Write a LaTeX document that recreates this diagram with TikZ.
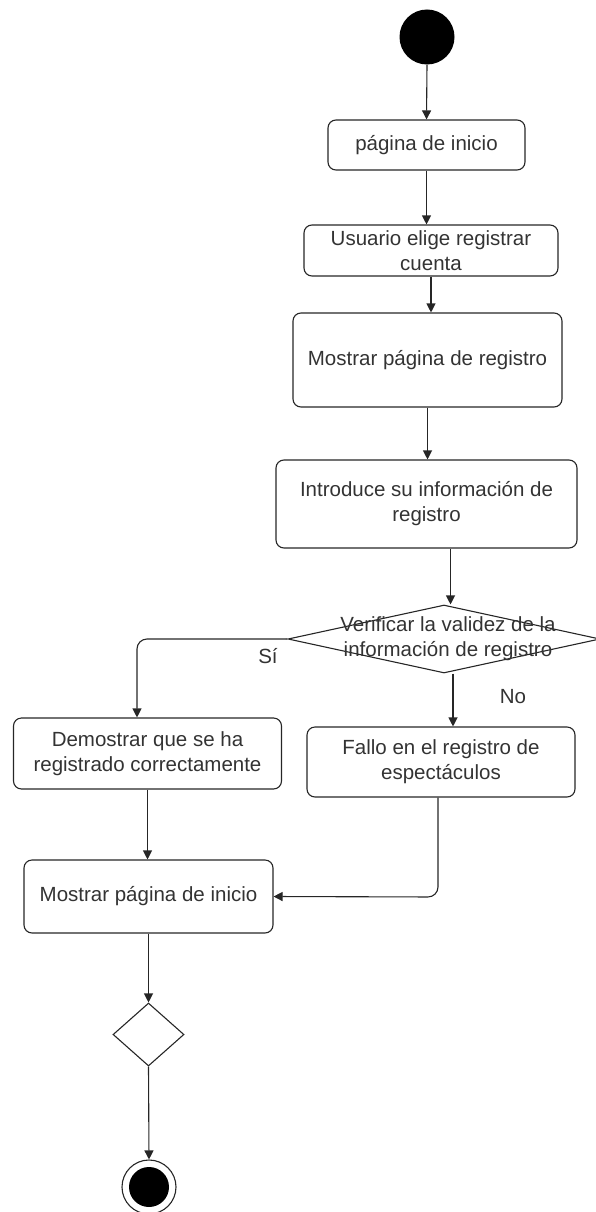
\documentclass[tikz,border=0pt]{standalone}
\usepackage{fontspec}
\setmainfont{Liberation Sans}
\usetikzlibrary{shapes.geometric,arrows.meta}
\definecolor{ln}{HTML}{262626}
\definecolor{tx}{HTML}{333333}
\begin{document}
\begin{tikzpicture}[x=1pt,y=-1pt,
  act/.style={draw=ln,line width=1.1pt,rounded corners=8pt,align=center,text=tx,font=\fontsize{20.5}{25}\selectfont,inner sep=0pt},
  flow/.style={draw=ln,line width=1.1pt,-{Triangle[length=9pt,width=9pt]}},
  lbl/.style={text=tx,font=\fontsize{20.5}{25}\selectfont}]
\useasboundingbox (0,0) rectangle (595,1212);
\node[circle,fill=black,minimum size=55pt,inner sep=0pt] (start) at (427,37) {};
\node[act,minimum width=197pt,minimum height=50pt] (b1) at (426.5,145) {página de inicio};
\node[act,minimum width=254pt,minimum height=51pt] (b2) at (431,250.5) {Usuario elige registrar\\cuenta};
\node[act,minimum width=269pt,minimum height=94pt] (b3) at (427.5,360) {Mostrar página de registro};
\node[act,minimum width=301pt,minimum height=88pt] (b4) at (426.5,504) {Introduce su información de\\registro};
\node[diamond,draw=ln,line width=1.1pt,minimum width=312pt,minimum height=68pt,inner sep=0pt,aspect=4.6] (d1) at (444,639) {};
\node[text=tx,font=\fontsize{20.5}{25}\selectfont,align=center] (d1t) at (448,639) {Verificar la validez de la\\información de registro};
\node[act,minimum width=268pt,minimum height=71pt] (b5) at (147.5,753.5) {Demostrar que se ha\\registrado correctamente};
\node[act,minimum width=268pt,minimum height=70pt] (b7) at (441,762) {Fallo en el registro de\\espectáculos};
\node[act,minimum width=249pt,minimum height=73pt] (b6) at (148.5,896.5) {Mostrar página de inicio};
\node[diamond,draw=ln,line width=1.1pt,minimum width=71pt,minimum height=63pt,inner sep=0pt] (d2) at (148.5,1034.5) {};
\node[circle,draw=ln,line width=1.1pt,minimum size=54pt,inner sep=0pt] (end) at (149,1187) {};
\node[circle,fill=black,minimum size=40pt,inner sep=0pt] (endin) at (end) {};
\node[lbl] (si) at (268,656) {Sí};
\node[lbl] (no) at (513,697) {No};
\coordinate (c1) at (137,639);
\coordinate (c2) at (438,897);
\draw[flow] (start.south) -- (b1.north);
\draw[flow] (b1.south) -- (b1.south |- b2.north);
\draw[flow] (b2.south) -- (b2.south |- b3.north);
\draw[flow] (b3.south) -- (b3.south |- b4.north);
\draw[flow] ([xshift=24pt]b4.south) -- ([xshift=24pt]b4.south |- d1.north);
\draw[flow,rounded corners=10pt] (d1.west) -- (c1) -- (c1 |- b5.north);
\draw[flow] ([xshift=9pt]d1.south) -- ([xshift=9pt]d1.south |- b7.north);
\draw[flow] (b5.south) -- (b5.south |- b6.north);
\draw[flow,rounded corners=10pt] ([xshift=-3pt]b7.south) -- ([xshift=-3pt]b7.south |- c2) -- (b6.east);
\draw[flow] (b6.south) -- (d2.north);
\draw[flow] (d2.south) -- (end.north);
\end{tikzpicture}
\end{document}
